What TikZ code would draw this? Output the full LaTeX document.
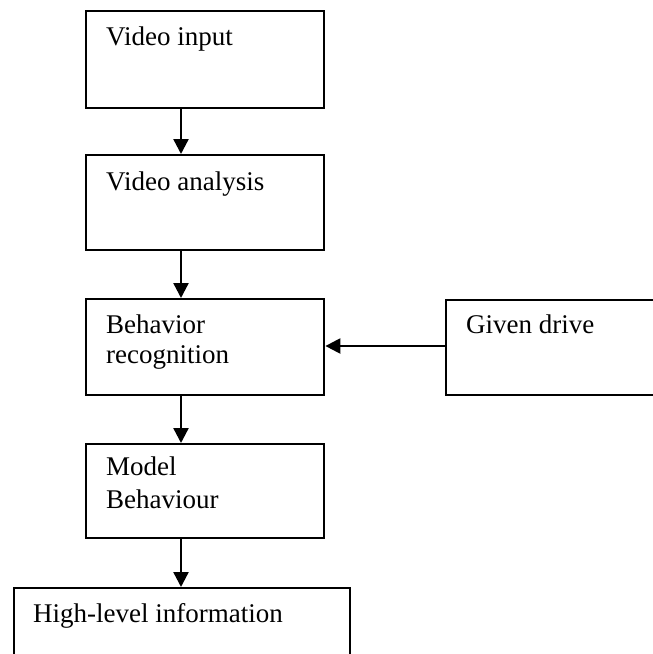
\documentclass[tikz,border=0pt]{standalone}
\usepackage{fontspec}
\setmainfont{Liberation Serif}
\usetikzlibrary{arrows.meta}
\begin{document}
\begin{tikzpicture}[x=1pt,y=-1pt,
  box/.style={draw=black,line width=2.4pt,rectangle,inner sep=0pt,anchor=north west},
  lbl/.style={anchor=base west,inner sep=0pt,align=left,font=\fontsize{27}{30}\selectfont},
  flow/.style={line width=2.4pt,-{Triangle[length=15pt,width=15pt]}}]
\useasboundingbox (0,0) rectangle (653,654);
% boxes (some run past the page edge and are cut by it)
\node[box,minimum width=238pt,minimum height=97pt] (vin) at (85,10) {};
\node[box,minimum width=238pt,minimum height=95pt] (van) at (85,154) {};
\node[box,minimum width=238pt,minimum height=96pt] (beh) at (85,298) {};
\node[box,minimum width=215pt,minimum height=95pt] (drv) at (445,299) {};
\node[box,minimum width=238pt,minimum height=94pt] (mod) at (85,443) {};
\node[box,minimum width=336pt,minimum height=90pt] (hig) at (13,587) {};
% texts (two-line labels are placed by the baseline of their last line)
\node[lbl] (tvin) at (106,45) {Video input};
\node[lbl] (tvan) at (106,190) {Video analysis};
\node[lbl,font=\fontsize{27}{30}\selectfont] (tbeh) at (106,363) {Behavior\\recognition};
\node[lbl] (tdrv) at (466,333) {Given drive};
\node[lbl,font=\fontsize{27}{33}\selectfont] (tmod) at (106,508) {Model\\Behaviour};
\node[lbl] (thig) at (33,622) {High-level information};
% connectors
\draw[flow] (vin.south -| 181,0) -- (van.north -| 181,0);
\draw[flow] (van.south -| 181,0) -- (beh.north -| 181,0);
\draw[flow] (beh.south -| 181,0) -- (mod.north -| 181,0);
\draw[flow] (mod.south -| 181,0) -- (hig.north -| 181,0);
\draw[flow] (drv.west |- 0,346) -- (beh.east |- 0,346);
\end{tikzpicture}
\end{document}
